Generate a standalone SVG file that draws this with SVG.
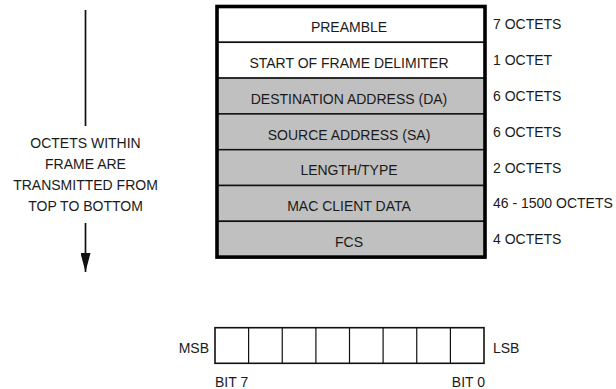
<svg xmlns="http://www.w3.org/2000/svg" width="616" height="389" viewBox="0 0 616 389">
<style>
text{font-family:"Liberation Sans",Arial,sans-serif;font-size:14px;fill:#1a1a1a}
.c{text-anchor:middle}
.w{fill:#ffffff;stroke:#111;stroke-width:1.5}
.g{fill:#c0c0c0;stroke:#111;stroke-width:1.5}
.cell{fill:#fff;stroke:#111;stroke-width:1.6}
</style>
<defs>
<marker id="ah" markerWidth="20" markerHeight="10" refX="19" refY="5" orient="auto" markerUnits="userSpaceOnUse">
<path d="M0,0 L19,5 L0,10 Z" fill="#111"/>
</marker>
</defs>
<g id="frame">
<g id="preamble"><rect class="w" x="217" y="6.5" width="268" height="35.8"/><text class="c" x="349" y="32">PREAMBLE</text><text x="493" y="29.3">7 OCTETS</text></g>
<g id="sfd"><rect class="w" x="217" y="42.3" width="268" height="35.8"/><text class="c" x="349" y="68">START OF FRAME DELIMITER</text><text x="493" y="65">1 OCTET</text></g>
<g id="da"><rect class="g" x="217" y="78.1" width="268" height="35.8"/><text class="c" x="349" y="103.8">DESTINATION ADDRESS (DA)</text><text x="493" y="100.8">6 OCTETS</text></g>
<g id="sa"><rect class="g" x="217" y="113.9" width="268" height="35.8"/><text class="c" x="349" y="139.6">SOURCE ADDRESS (SA)</text><text x="493" y="136.7">6 OCTETS</text></g>
<g id="lt"><rect class="g" x="217" y="149.7" width="268" height="35.8"/><text class="c" x="349" y="175.4">LENGTH/TYPE</text><text x="493" y="172.6">2 OCTETS</text></g>
<g id="data"><rect class="g" x="217" y="185.5" width="268" height="35.8"/><text class="c" x="349" y="211.2">MAC CLIENT DATA</text><text x="493" y="208.4">46 - 1500 OCTETS</text></g>
<g id="fcs"><rect class="g" x="217" y="221.3" width="268" height="35.8"/><text class="c" x="349" y="247">FCS</text><text x="493" y="244.2">4 OCTETS</text></g>
<rect x="217" y="6.5" width="268" height="250.6" fill="none" stroke="#000" stroke-width="3.6"/>
</g>
<g id="note">
<text class="c" x="85.5" y="148">OCTETS WITHIN</text>
<text class="c" x="85.5" y="169">FRAME ARE</text>
<text class="c" x="85.5" y="190">TRANSMITTED FROM</text>
<text class="c" x="85.5" y="211">TOP TO BOTTOM</text>
</g>
<g id="connectors" stroke="#111" stroke-width="1.7" fill="none">
<line x1="85.5" y1="10" x2="85.5" y2="126"/>
<line x1="85.5" y1="223" x2="85.5" y2="272" marker-end="url(#ah)"/>
</g>
<g id="octet">
<rect class="cell" x="215" y="327.7" width="269" height="35.6"/>
<path d="M248.6,327.7V363.3M282.25,327.7V363.3M315.9,327.7V363.3M349.5,327.7V363.3M383.1,327.7V363.3M416.75,327.7V363.3M450.4,327.7V363.3" stroke="#111" stroke-width="1.2" fill="none"/>
<text x="209" y="352.5" text-anchor="end">MSB</text>
<text x="493" y="352.5">LSB</text>
<text x="215" y="386.5">BIT 7</text>
<text x="485" y="386.5" text-anchor="end">BIT 0</text>
</g>
</svg>
